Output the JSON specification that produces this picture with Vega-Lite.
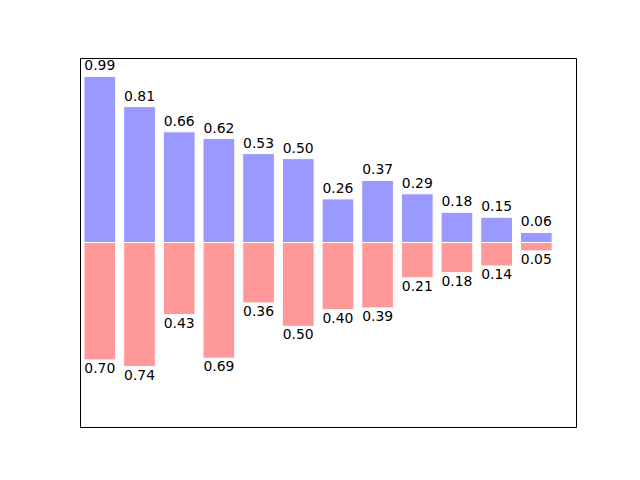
{
  "$schema": "https://vega.github.io/schema/vega-lite/v6.json",
  "width": 496,
  "height": 369,
  "autosize": "none",
  "padding": {"left": 80, "top": 58, "right": 64, "bottom": 53},
  "background": "white",
  "config": {"view": {"stroke": "black", "strokeWidth": 1}},
  "data": {"values": [
    {"x": 0, "y": 0.99, "label": "0.99", "s": "top"},
    {"x": 1, "y": 0.81, "label": "0.81", "s": "top"},
    {"x": 2, "y": 0.66, "label": "0.66", "s": "top"},
    {"x": 3, "y": 0.62, "label": "0.62", "s": "top"},
    {"x": 4, "y": 0.53, "label": "0.53", "s": "top"},
    {"x": 5, "y": 0.50, "label": "0.50", "s": "top"},
    {"x": 6, "y": 0.26, "label": "0.26", "s": "top"},
    {"x": 7, "y": 0.37, "label": "0.37", "s": "top"},
    {"x": 8, "y": 0.29, "label": "0.29", "s": "top"},
    {"x": 9, "y": 0.18, "label": "0.18", "s": "top"},
    {"x": 10, "y": 0.15, "label": "0.15", "s": "top"},
    {"x": 11, "y": 0.06, "label": "0.06", "s": "top"},
    {"x": 0, "y": -0.70, "label": "0.70", "s": "bottom"},
    {"x": 1, "y": -0.74, "label": "0.74", "s": "bottom"},
    {"x": 2, "y": -0.43, "label": "0.43", "s": "bottom"},
    {"x": 3, "y": -0.69, "label": "0.69", "s": "bottom"},
    {"x": 4, "y": -0.36, "label": "0.36", "s": "bottom"},
    {"x": 5, "y": -0.50, "label": "0.50", "s": "bottom"},
    {"x": 6, "y": -0.40, "label": "0.40", "s": "bottom"},
    {"x": 7, "y": -0.39, "label": "0.39", "s": "bottom"},
    {"x": 8, "y": -0.21, "label": "0.21", "s": "bottom"},
    {"x": 9, "y": -0.18, "label": "0.18", "s": "bottom"},
    {"x": 10, "y": -0.14, "label": "0.14", "s": "bottom"},
    {"x": 11, "y": -0.05, "label": "0.05", "s": "bottom"}
  ]},
  "encoding": {
    "x": {"field": "x", "type": "quantitative", "scale": {"domain": [-0.5, 12], "nice": false, "zero": false, "padding": 0}, "axis": null},
    "y": {"field": "y", "type": "quantitative", "scale": {"domain": [-1.1, 1.1], "nice": false, "padding": 0}, "axis": null}
  },
  "layer": [
    {
      "mark": {"type": "bar", "width": 31.7, "stroke": "white", "strokeWidth": 1, "clip": true},
      "encoding": {
        "color": {"field": "s", "type": "nominal", "scale": {"domain": ["top", "bottom"], "range": ["#9999ff", "#ff9999"]}, "legend": null}
      }
    },
    {
      "transform": [{"filter": "datum.s === 'top'"}],
      "mark": {"type": "text", "baseline": "bottom", "dy": -3, "font": "DejaVu Sans", "fontSize": 13.9, "color": "black"},
      "encoding": {"text": {"field": "label"}}
    },
    {
      "transform": [{"filter": "datum.s === 'bottom'"}],
      "mark": {"type": "text", "baseline": "top", "dy": 2, "font": "DejaVu Sans", "fontSize": 13.9, "color": "black"},
      "encoding": {"text": {"field": "label"}}
    }
  ]
}
